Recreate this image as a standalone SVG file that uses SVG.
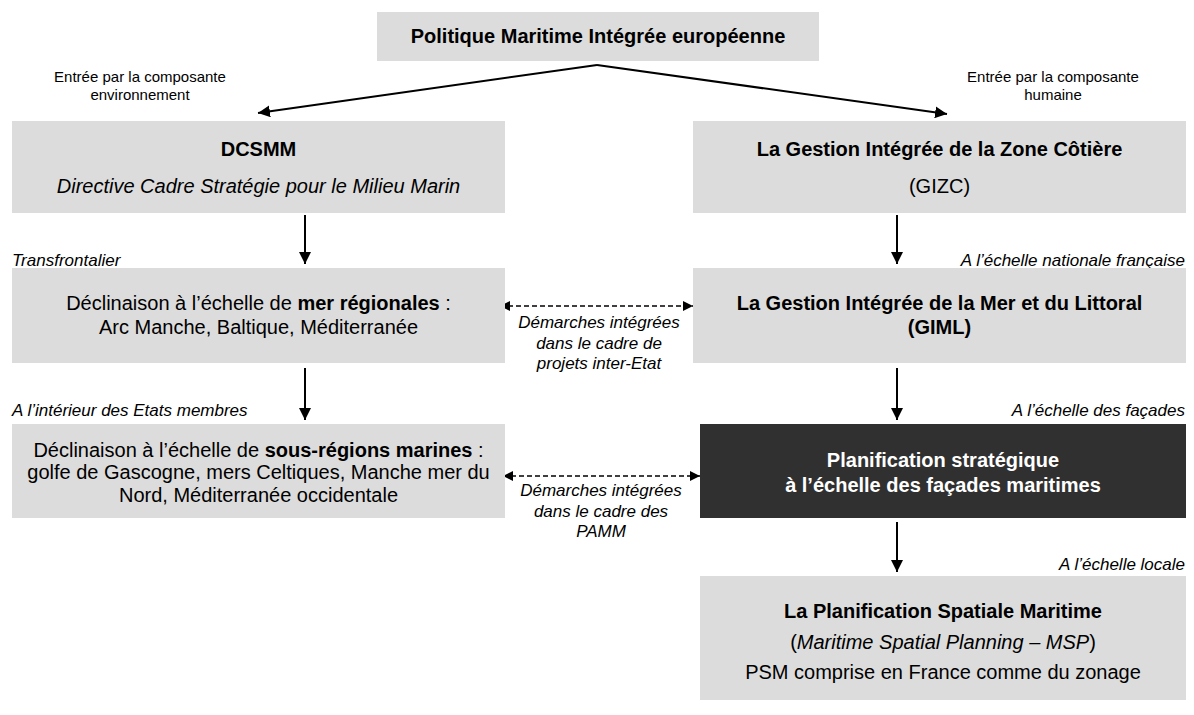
<svg xmlns="http://www.w3.org/2000/svg" width="1194" height="715" viewBox="0 0 1194 715">
<style>
.box{fill:#dcdcdc}
.dark{fill:#303030}
text{font-family:"Liberation Sans",Arial,sans-serif;fill:#000}
.m{font-size:20px;text-anchor:middle}
.b{font-weight:bold}
.i{font-style:italic}
.w{fill:#fff}
.lab{font-size:17px;font-style:italic}
.ent{font-size:15px;text-anchor:middle}
.c{stroke:#000;stroke-width:2;fill:none}
.d{stroke:#000;stroke-width:1.6;fill:none;stroke-dasharray:5 3}
</style>
<defs>
<marker id="ah" viewBox="0 0 10 10" refX="10" refY="5" markerUnits="userSpaceOnUse" markerWidth="12" markerHeight="12" orient="auto-start-reverse">
<path d="M0,0 L10,5 L0,10 z" fill="#000"/>
</marker>
<marker id="sh" viewBox="0 0 10 10" refX="10" refY="5" markerUnits="userSpaceOnUse" markerWidth="10" markerHeight="10" orient="auto-start-reverse">
<path d="M0,0 L10,5 L0,10 z" fill="#000"/>
</marker>
</defs>

<g id="connectors">
<line class="c" x1="597" y1="65" x2="258" y2="113" marker-end="url(#ah)"/>
<line class="c" x1="597" y1="65" x2="947" y2="114" marker-end="url(#ah)"/>
<line class="c" x1="305" y1="215" x2="305" y2="264" marker-end="url(#ah)"/>
<line class="c" x1="897" y1="215" x2="897" y2="264" marker-end="url(#ah)"/>
<line class="c" x1="305" y1="368" x2="305" y2="420" marker-end="url(#ah)"/>
<line class="c" x1="897" y1="368" x2="897" y2="420" marker-end="url(#ah)"/>
<line class="c" x1="897" y1="522" x2="897" y2="572" marker-end="url(#ah)"/>
<line class="d" x1="500" y1="306" x2="693" y2="306" marker-start="url(#sh)" marker-end="url(#sh)"/>
<line class="d" x1="503" y1="476" x2="700" y2="476" marker-start="url(#sh)" marker-end="url(#sh)"/>
<text class="lab" text-anchor="middle"><tspan x="599" y="328">Démarches intégrées</tspan><tspan x="599" y="349">dans le cadre de</tspan><tspan x="599" y="369">projets inter-Etat</tspan></text>
<text class="lab" text-anchor="middle"><tspan x="601" y="496">Démarches intégrées</tspan><tspan x="601" y="517">dans le cadre des</tspan><tspan x="601" y="537">PAMM</tspan></text>
</g>

<g id="labels">
<text class="ent"><tspan x="140" y="82">Entrée par la composante</tspan><tspan x="140" y="100">environnement</tspan></text>
<text class="ent"><tspan x="1053" y="82">Entrée par la composante</tspan><tspan x="1053" y="100">humaine</tspan></text>
<text class="lab" x="12" y="266">Transfrontalier</text>
<text class="lab" x="1185" y="266" text-anchor="end">A l’échelle nationale française</text>
<text class="lab" x="12" y="416">A l’intérieur des Etats membres</text>
<text class="lab" x="1185" y="416" text-anchor="end">A l’échelle des façades</text>
<text class="lab" x="1185" y="570" text-anchor="end">A l’échelle locale</text>
</g>

<g id="pmi">
<rect class="box" x="377" y="12" width="442" height="49"/>
<text class="m b" x="598" y="43">Politique Maritime Intégrée européenne</text>
</g>

<g id="dcsmm">
<rect class="box" x="12" y="121" width="493" height="92"/>
<text class="m b" x="258.5" y="156">DCSMM</text>
<text class="m i" x="258.5" y="193">Directive Cadre Stratégie pour le Milieu Marin</text>
</g>

<g id="gizc">
<rect class="box" x="693" y="121" width="493" height="92"/>
<text class="m b" x="939.5" y="156">La Gestion Intégrée de la Zone Côtière</text>
<text class="m" x="939.5" y="193">(GIZC)</text>
</g>

<g id="mers-regionales">
<rect class="box" x="12" y="268" width="493" height="95"/>
<text class="m" x="258.5" y="310">Déclinaison à l’échelle de <tspan class="b">mer régionales</tspan> :</text>
<text class="m" x="258.5" y="334">Arc Manche, Baltique, Méditerranée</text>
</g>

<g id="giml">
<rect class="box" x="693" y="268" width="493" height="95"/>
<text class="m b" x="939.5" y="310">La Gestion Intégrée de la Mer et du Littoral</text>
<text class="m b" x="939.5" y="334">(GIML)</text>
</g>

<g id="sous-regions">
<rect class="box" x="12" y="424" width="493" height="94"/>
<text class="m" x="258.5" y="457">Déclinaison à l’échelle de <tspan class="b">sous-régions marines</tspan> :</text>
<text class="m" x="258.5" y="479">golfe de Gascogne, mers Celtiques, Manche mer du</text>
<text class="m" x="258.5" y="502">Nord, Méditerranée occidentale</text>
</g>

<g id="planification-strategique">
<rect class="dark" x="700" y="424" width="486" height="94"/>
<text class="m b w" x="943" y="467">Planification stratégique</text>
<text class="m b w" x="943" y="492">à l’échelle des façades maritimes</text>
</g>

<g id="psm">
<rect class="box" x="700" y="576" width="486" height="124"/>
<text class="m b" x="943" y="618">La Planification Spatiale Maritime</text>
<text class="m" x="943" y="649">(<tspan class="i">Maritime Spatial Planning – MSP</tspan>)</text>
<text class="m" x="943" y="679">PSM comprise en France comme du zonage</text>
</g>
</svg>
